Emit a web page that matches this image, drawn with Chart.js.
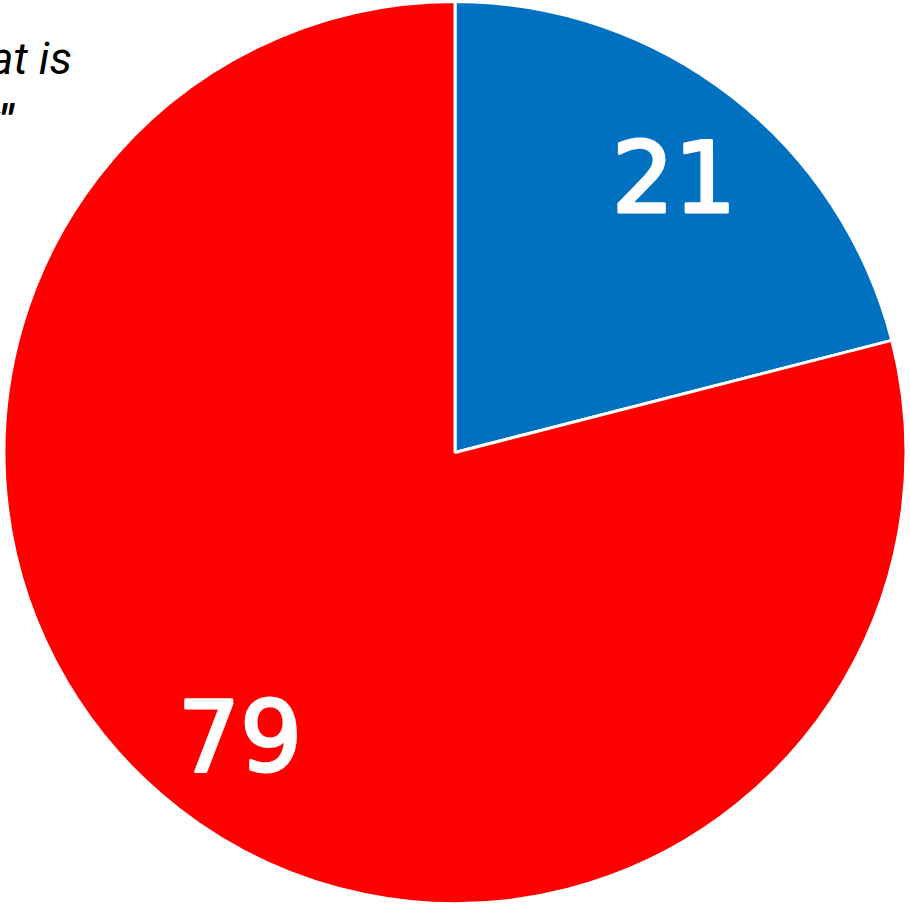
<!DOCTYPE html>
<html lang="en">
<head>
    <meta charset="UTF-8">
    <title>Pie</title>
    <script src="https://cdn.jsdelivr.net/npm/chart.js"></script>
    <style>
        html, body { margin: 0; padding: 0; background: #fff; overflow: hidden; }
        #wrap { position: relative; width: 910px; height: 905px; }
        #pieChart { position: absolute; left: 0; top: 0; }
        .nota { position: absolute; right: 838px; font-family: "Roboto", "Liberation Sans", sans-serif;
                font-style: italic; color: #000; font-size: 45px; white-space: nowrap; line-height: 1; }
    </style>
</head>
<body>
    <div id="wrap">
        <div class="nota" style="top: 36px;">“The country is on what is</div>
        <div class="nota" style="top: 98px; right: 897px; font-weight: bold;">the right track"</div>
        <canvas id="pieChart" width="910" height="905"></canvas>
    </div>
    <script>
        // datos
        var categorias = ['Right track', 'Wrong track'];
        var valores = [21, 79];
        var colores = ['#0071C1', '#FF0000'];

        // etiquetas dentro de cada sector
        var etiquetasPlugin = {
            id: 'etiquetas',
            afterDatasetsDraw: function (chart) {
                var ctx = chart.ctx;
                var meta = chart.getDatasetMeta(0);
                ctx.save();
                ctx.fillStyle = '#fff';
                ctx.strokeStyle = '#fff';
                ctx.lineWidth = 3;
                ctx.lineJoin = 'round';
                ctx.font = '98px "DejaVu Sans", sans-serif';
                ctx.textAlign = 'center';
                ctx.textBaseline = 'alphabetic';
                meta.data.forEach(function (arc, i) {
                    var mid = (arc.startAngle + arc.endAngle) / 2;
                    var r = arc.outerRadius * 0.785;
                    var x = arc.x + Math.cos(mid) * r + 2;
                    var y = arc.y + Math.sin(mid) * r + 39;
                    ctx.strokeText(String(valores[i]), x, y);
                    ctx.fillText(String(valores[i]), x, y);
                });
                ctx.restore();
            }
        };

        var ctxPie = document.getElementById('pieChart').getContext('2d');
        var pieChart = new Chart(ctxPie, {
            type: 'pie',
            data: {
                labels: categorias,
                datasets: [{
                    data: valores,
                    backgroundColor: colores,
                    borderColor: '#fff',
                    borderWidth: 3
                }]
            },
            options: {
                responsive: false,
                animation: false,
                layout: { padding: 0 },
                plugins: {
                    legend: { display: false },
                    tooltip: { enabled: false }
                }
            },
            plugins: [etiquetasPlugin]
        });
    </script>
</body>
</html>
